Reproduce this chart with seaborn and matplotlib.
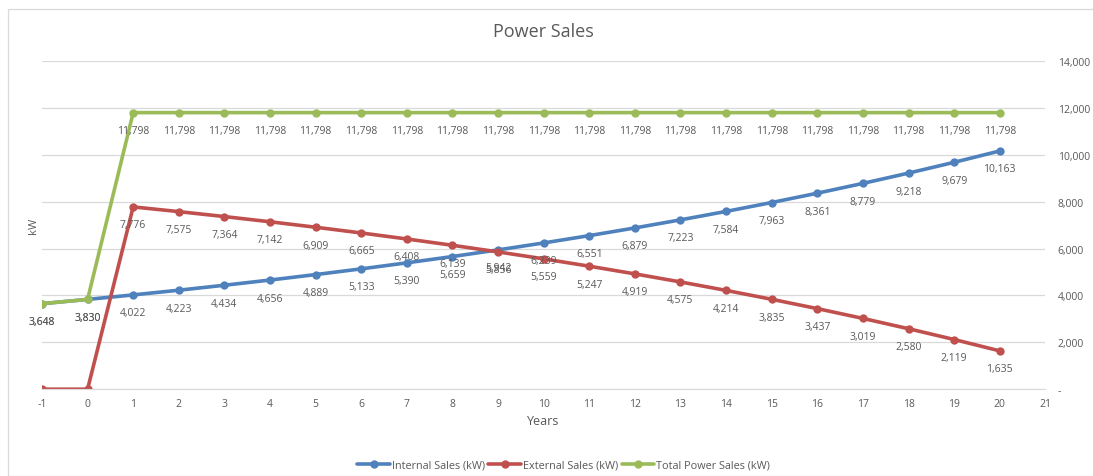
import pandas as pd
import numpy as np
import matplotlib.pyplot as plt
import seaborn as sns
from matplotlib.patches import Rectangle

# data
years = list(range(-1, 21))
internal = [3648, 3830, 4022, 4223, 4434, 4656, 4889, 5133, 5390, 5659, 5942,
            6239, 6551, 6879, 7223, 7584, 7963, 8361, 8779, 9218, 9679, 10163]
external = [0, 0, 7776, 7575, 7364, 7142, 6909, 6665, 6408, 6139, 5856,
            5559, 5247, 4919, 4575, 4214, 3835, 3437, 3019, 2580, 2119, 1635]
total = [3648, 3830] + [11798] * 20

series_names = ['Internal Sales (kW)', 'External Sales (kW)', 'Total Power Sales (kW)']
colors = ['#4F81BD', '#C0504D', '#9BBB59']

df = pd.concat([
    pd.DataFrame({'Year': years, 'kW': vals, 'Series': name})
    for name, vals in zip(series_names, [internal, external, total])
])

sns.set_style("white")
plt.rcParams['font.family'] = ['Open Sans', 'DejaVu Sans']
plt.rcParams['axes.unicode_minus'] = False
txt = '#595959'

fig = plt.figure(figsize=(10.93, 4.77), dpi=100)
ax = fig.add_axes([0.0384, 0.182, 0.918, 0.688])

sns.lineplot(data=df, x='Year', y='kW', hue='Series', palette=colors,
             marker='o', markersize=6, markeredgewidth=0, linewidth=2.6,
             ax=ax, legend=True)

# data labels under each point
for name, vals in zip(series_names, [internal, external, total]):
    for x, v in zip(years, vals):
        if v == 0:
            continue
        ax.annotate(f'{v:,}', (x, v), xytext=(0, -9), textcoords='offset points',
                    ha='center', va='top', fontsize=7.5, color=txt)

ax.set_xlim(-1, 21)
ax.set_ylim(0, 14000)
ax.set_xticks(range(-1, 22))
ax.set_yticks(range(0, 14001, 2000))
ax.yaxis.tick_right()
ax.set_yticklabels(['-'] + [f'{v:,}' for v in range(2000, 14001, 2000)])
ax.tick_params(axis='both', length=0, labelsize=7.5, colors=txt)
ax.tick_params(axis='y', pad=9)
ax.tick_params(axis='x', pad=6)
ax.grid(axis='y', color='#D9D9D9', linewidth=0.9)
for s in ['top', 'right', 'left']:
    ax.spines[s].set_visible(False)
ax.spines['bottom'].set_color('#D9D9D9')

ax.set_xlabel('Years', fontsize=9, color=txt, labelpad=4)
ax.set_ylabel('kW', fontsize=8, color=txt, labelpad=2)
ax.yaxis.set_label_position('left')
ax.set_title('Power Sales', fontsize=13, color=txt, pad=18)

ax.legend(loc='upper center', bbox_to_anchor=(0.52, -0.185), ncol=3, frameon=False,
          fontsize=7.8, handlelength=3, columnspacing=0.3, handletextpad=0.2,
          labelcolor=txt)

fig.patches.append(Rectangle((0.0075, 0.0), 0.995, 0.979, transform=fig.transFigure,
                             fill=False, edgecolor='#D9D9D9', linewidth=0.9))

fig.savefig('out.png', dpi=100)
